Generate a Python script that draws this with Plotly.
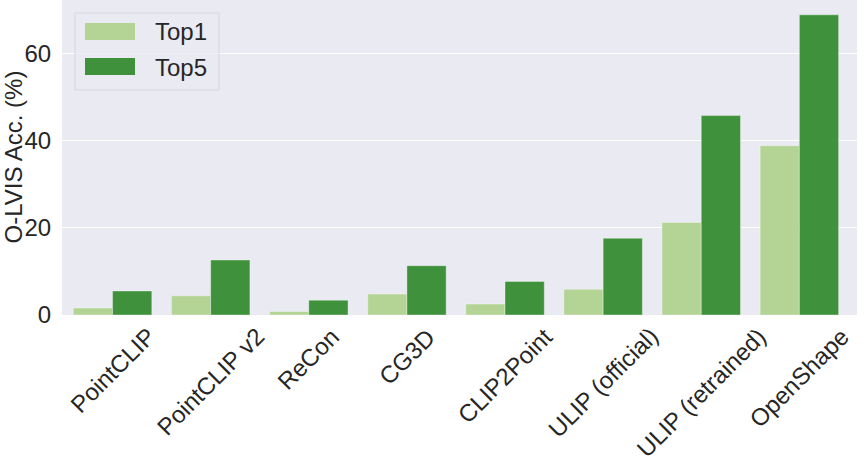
import plotly.graph_objects as go

categories = ["PointCLIP", "PointCLIP v2", "ReCon", "CG3D", "CLIP2Point",
              "ULIP (official)", "ULIP (retrained)", "OpenShape"]
top1 = [1.6, 4.4, 0.8, 4.8, 2.5, 5.9, 21.2, 38.8]
top5 = [5.5, 12.6, 3.4, 11.3, 7.7, 17.6, 45.7, 68.8]
series_names = ["Top1", "Top5"]
yticks = [0, 20, 40, 60]
ylabel = "O-LVIS Acc. (%)"

c1 = "#B3D495"
c5 = "#40913B"
font = "Arial, Liberation Sans, sans-serif"
txt = "#262626"
FS = 24

fig = go.Figure()
fig.add_bar(x=categories, y=top1, name=series_names[0], marker_color=c1,
            marker_line_color="rgba(255,255,255,0.6)", marker_line_width=0.6)
fig.add_bar(x=categories, y=top5, name=series_names[1], marker_color=c5,
            marker_line_color="rgba(255,255,255,0.6)", marker_line_width=0.6)

# plot area in pixels: x 62..857, y 0..315
W, H = 864, 465
L, R, T, B = 62, 857, 0, 315
def px(x):
    return (x - L) / (R - L)
def py(y):
    return (B - y) / (B - T)

shapes = [
    dict(type="rect", xref="paper", yref="paper", x0=px(75), x1=px(219), y0=py(90), y1=py(13),
         fillcolor="rgba(234,234,242,0.8)", line=dict(color="#D6D6E0", width=1), layer="above"),
    dict(type="rect", xref="paper", yref="paper", x0=px(85), x1=px(135), y0=py(40), y1=py(23),
         fillcolor=c1, line=dict(width=0), layer="above"),
    dict(type="rect", xref="paper", yref="paper", x0=px(85), x1=px(135), y0=py(75), y1=py(58),
         fillcolor=c5, line=dict(width=0), layer="above"),
]
annotations = [
    dict(xref="paper", yref="paper", x=px(153), y=py(32), text=series_names[0], showarrow=False,
         xanchor="left", yanchor="middle", font=dict(size=FS, color=txt, family=font)),
    dict(xref="paper", yref="paper", x=px(153), y=py(67), text=series_names[1], showarrow=False,
         xanchor="left", yanchor="middle", font=dict(size=FS, color=txt, family=font)),
    dict(xref="paper", yref="paper", x=px(13), y=0.5, text=ylabel, showarrow=False,
         textangle=-90, xanchor="center", yanchor="middle",
         font=dict(size=FS, color=txt, family=font)),
]
# rotated category labels (bbox centred under each category, like matplotlib)
for c in categories:
    annotations.append(dict(xref="x", yref="paper", x=c, y=0, yshift=-5, text=c,
                            showarrow=False, textangle=-45, xanchor="center", yanchor="top",
                            font=dict(size=FS, color=txt, family=font)))

fig.update_layout(
    width=W, height=H,
    margin=dict(l=L, r=W - R, t=T, b=H - B, autoexpand=False),
    barmode="group", bargap=0.2, bargroupgap=0,
    paper_bgcolor="white", plot_bgcolor="#EAEAF2",
    showlegend=False,
    font=dict(family=font, size=FS, color=txt),
    shapes=shapes, annotations=annotations,
)
fig.update_xaxes(showticklabels=False, showgrid=False, automargin=False,
                 showline=False, zeroline=False)
fig.update_yaxes(range=[0, 72.2], tickvals=yticks, showgrid=True, gridcolor="white",
                 gridwidth=1, zeroline=False, showline=False, automargin=False,
                 ticks="outside", ticklen=5, tickcolor="rgba(0,0,0,0)",
                 tickfont=dict(size=FS, color=txt))

fig.write_html("out.html", config={"displayModeBar": False},
               post_script="document.body.style.margin='0';")
